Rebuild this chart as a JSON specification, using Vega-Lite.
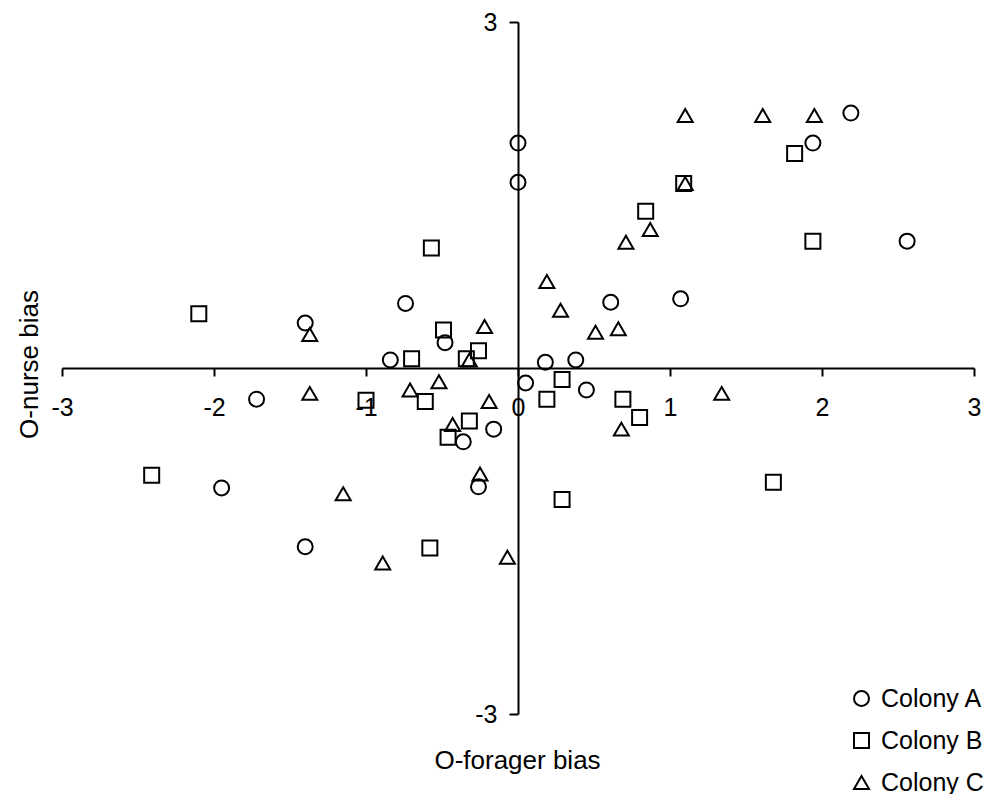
{
  "$schema": "https://vega.github.io/schema/vega-lite/v6.json",
  "width": 912,
  "height": 692,
  "autosize": {"type": "none"},
  "padding": {"left": 62, "top": 22, "right": 24, "bottom": 80},
  "background": "white",
  "config": {
    "view": {"stroke": null},
    "font": "Liberation Sans",
    "legend": {
      "orient": "none",
      "legendX": 787,
      "legendY": 664,
      "padding": 0,
      "labelFontSize": 25,
      "labelColor": "black",
      "labelFont": "Liberation Sans",
      "labelOffset": 7,
      "rowPadding": 16,
      "symbolStrokeColor": "black",
      "symbolStrokeWidth": 2,
      "symbolFillColor": "transparent"
    }
  },
  "data": {
    "values": [
      {"colony": "Colony A", "forager": 0.00, "nurse": 1.95},
      {"colony": "Colony A", "forager": 0.00, "nurse": 1.61},
      {"colony": "Colony A", "forager": 2.19, "nurse": 2.21},
      {"colony": "Colony A", "forager": 1.94, "nurse": 1.95},
      {"colony": "Colony A", "forager": 2.56, "nurse": 1.10},
      {"colony": "Colony A", "forager": 1.07, "nurse": 0.60},
      {"colony": "Colony A", "forager": 0.61, "nurse": 0.57},
      {"colony": "Colony A", "forager": -0.74, "nurse": 0.56},
      {"colony": "Colony A", "forager": -1.40, "nurse": 0.39},
      {"colony": "Colony A", "forager": -0.48, "nurse": 0.22},
      {"colony": "Colony A", "forager": -0.84, "nurse": 0.07},
      {"colony": "Colony A", "forager": 0.18, "nurse": 0.05},
      {"colony": "Colony A", "forager": 0.38, "nurse": 0.07},
      {"colony": "Colony A", "forager": 0.05, "nurse": -0.13},
      {"colony": "Colony A", "forager": 0.45, "nurse": -0.19},
      {"colony": "Colony A", "forager": -1.72, "nurse": -0.27},
      {"colony": "Colony A", "forager": -0.16, "nurse": -0.53},
      {"colony": "Colony A", "forager": -0.36, "nurse": -0.64},
      {"colony": "Colony A", "forager": -1.95, "nurse": -1.04},
      {"colony": "Colony A", "forager": -0.26, "nurse": -1.03},
      {"colony": "Colony A", "forager": -1.40, "nurse": -1.55},
      {"colony": "Colony B", "forager": 1.82, "nurse": 1.86},
      {"colony": "Colony B", "forager": 1.09, "nurse": 1.60},
      {"colony": "Colony B", "forager": 0.84, "nurse": 1.36},
      {"colony": "Colony B", "forager": 1.94, "nurse": 1.10},
      {"colony": "Colony B", "forager": -0.57, "nurse": 1.04},
      {"colony": "Colony B", "forager": -2.10, "nurse": 0.47},
      {"colony": "Colony B", "forager": -0.49, "nurse": 0.33},
      {"colony": "Colony B", "forager": -0.26, "nurse": 0.15},
      {"colony": "Colony B", "forager": -0.34, "nurse": 0.08},
      {"colony": "Colony B", "forager": -0.70, "nurse": 0.08},
      {"colony": "Colony B", "forager": 0.29, "nurse": -0.10},
      {"colony": "Colony B", "forager": -1.00, "nurse": -0.28},
      {"colony": "Colony B", "forager": -0.61, "nurse": -0.29},
      {"colony": "Colony B", "forager": 0.19, "nurse": -0.27},
      {"colony": "Colony B", "forager": 0.69, "nurse": -0.27},
      {"colony": "Colony B", "forager": 0.80, "nurse": -0.43},
      {"colony": "Colony B", "forager": -0.32, "nurse": -0.46},
      {"colony": "Colony B", "forager": -0.46, "nurse": -0.60},
      {"colony": "Colony B", "forager": -2.41, "nurse": -0.93},
      {"colony": "Colony B", "forager": 1.68, "nurse": -0.99},
      {"colony": "Colony B", "forager": 0.29, "nurse": -1.14},
      {"colony": "Colony B", "forager": -0.58, "nurse": -1.56},
      {"colony": "Colony C", "forager": 1.10, "nurse": 2.19},
      {"colony": "Colony C", "forager": 1.61, "nurse": 2.19},
      {"colony": "Colony C", "forager": 1.95, "nurse": 2.19},
      {"colony": "Colony C", "forager": 1.10, "nurse": 1.60},
      {"colony": "Colony C", "forager": 0.87, "nurse": 1.20},
      {"colony": "Colony C", "forager": 0.71, "nurse": 1.09},
      {"colony": "Colony C", "forager": 0.19, "nurse": 0.75},
      {"colony": "Colony C", "forager": 0.28, "nurse": 0.50},
      {"colony": "Colony C", "forager": -0.22, "nurse": 0.36},
      {"colony": "Colony C", "forager": 0.51, "nurse": 0.31},
      {"colony": "Colony C", "forager": 0.66, "nurse": 0.34},
      {"colony": "Colony C", "forager": -1.37, "nurse": 0.29},
      {"colony": "Colony C", "forager": -0.32, "nurse": 0.07},
      {"colony": "Colony C", "forager": -0.52, "nurse": -0.12},
      {"colony": "Colony C", "forager": -1.37, "nurse": -0.22},
      {"colony": "Colony C", "forager": -0.71, "nurse": -0.19},
      {"colony": "Colony C", "forager": 1.34, "nurse": -0.22},
      {"colony": "Colony C", "forager": -0.19, "nurse": -0.29},
      {"colony": "Colony C", "forager": -0.43, "nurse": -0.49},
      {"colony": "Colony C", "forager": 0.68, "nurse": -0.53},
      {"colony": "Colony C", "forager": -0.25, "nurse": -0.92},
      {"colony": "Colony C", "forager": -1.15, "nurse": -1.09},
      {"colony": "Colony C", "forager": -0.89, "nurse": -1.69},
      {"colony": "Colony C", "forager": -0.07, "nurse": -1.64}
    ]
  },
  "mark": {"type": "point", "filled": false, "color": "black", "strokeWidth": 2, "opacity": 1},
  "encoding": {
    "x": {
      "field": "forager",
      "type": "quantitative",
      "scale": {"domain": [-3, 3], "nice": false, "zero": false},
      "axis": {
        "offset": -346,
        "values": [-3, -2, -1, 0, 1, 2, 3],
        "labelExpr": "datum.value + ''",
        "grid": false,
        "domainColor": "black",
        "domainWidth": 2,
        "tickColor": "black",
        "tickWidth": 2,
        "tickSize": 8,
        "labelFontSize": 25,
        "labelFont": "Liberation Sans",
        "labelColor": "black",
        "labelPadding": 19,
        "labelFlush": false,
        "labelOverlap": false,
        "title": "O-forager bias",
        "titleFont": "Liberation Sans",
        "titleFontSize": 26,
        "titleFontWeight": "normal",
        "titleColor": "black",
        "titleX": 455,
        "titleY": 400,
        "titleAlign": "center",
        "titleBaseline": "alphabetic"
      }
    },
    "y": {
      "field": "nurse",
      "type": "quantitative",
      "scale": {"domain": [-3, 3], "nice": false, "zero": false},
      "axis": {
        "offset": -456,
        "values": [-3, 3],
        "labelExpr": "datum.value + ''",
        "grid": false,
        "domainColor": "black",
        "domainWidth": 2,
        "tickColor": "black",
        "tickWidth": 2,
        "tickSize": 9,
        "labelFontSize": 25,
        "labelFont": "Liberation Sans",
        "labelColor": "black",
        "labelPadding": 12,
        "labelFlush": false,
        "labelOverlap": false,
        "title": "O-nurse bias",
        "titleFont": "Liberation Sans",
        "titleFontSize": 26,
        "titleFontWeight": "normal",
        "titleColor": "black",
        "titleAngle": -90,
        "titleX": -481,
        "titleY": 342,
        "titleAlign": "center",
        "titleBaseline": "alphabetic"
      }
    },
    "shape": {
      "field": "colony",
      "type": "nominal",
      "scale": {"domain": ["Colony A", "Colony B", "Colony C"], "range": ["circle", "square", "triangle-up"]},
      "legend": {"title": null}
    },
    "size": {
      "field": "colony",
      "type": "nominal",
      "scale": {"domain": ["Colony A", "Colony B", "Colony C"], "range": [225, 225, 300]},
      "legend": {"title": null}
    }
  }
}
